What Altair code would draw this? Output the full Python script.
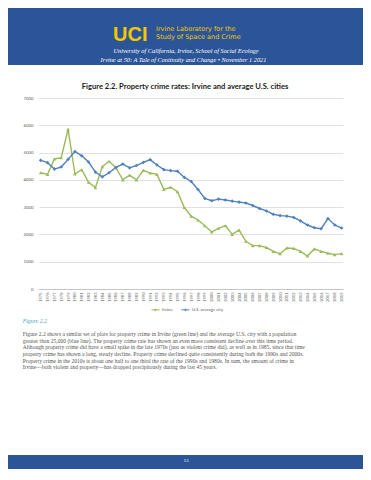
import altair as alt
import pandas as pd

years = list(range(1975, 2020))
irvine = [4260, 4200, 4765, 4815, 5860, 4220, 4370, 3910, 3715, 4480,
          4680, 4445, 4000, 4170, 4000, 4350, 4250, 4200, 3650, 3730,
          3565, 2985, 2670, 2530, 2320, 2090, 2225, 2320, 2000, 2160,
          1750, 1590, 1590, 1520, 1380, 1295, 1505, 1490, 1380, 1210,
          1470, 1380, 1310, 1260, 1295]
us_avg = [4715, 4630, 4395, 4470, 4750, 5040, 4880, 4655, 4285, 4110,
          4260, 4455, 4580, 4440, 4525, 4640, 4740, 4545, 4375, 4340,
          4315, 4090, 3940, 3645, 3320, 3235, 3295, 3260, 3220, 3185,
          3150, 3060, 2950, 2860, 2740, 2690, 2670, 2620, 2495, 2345,
          2245, 2210, 2580, 2345, 2235]
series_names = ["Irvine", "U.S. average city"]
series_shapes = ["triangle-up", "diamond"]
y_ticks = [0, 1000, 2000, 3000, 4000, 5000, 6000, 7000]

title_text = "Figure 2.2. Property crime rates: Irvine and average U.S. cities"
banner_lab1 = "Irvine Laboratory for the"
banner_lab2 = "Study of Space and Crime"
banner_sub1 = "University of California, Irvine, School of Social Ecology"
banner_sub2 = "Irvine at 50: A Tale of Continuity and Change  \u2022 November 1 2021"
caption = "Figure 2.2"
paragraph = [
    "Figure 2.2 shows a similar set of plots for property crime in Irvine (green line) and the average U.S. city with a population",
    "greater than 25,000 (blue line). The property crime rate has shown an even more consistent decline over this time period.",
    "Although property crime did have a small spike in the late 1970s (just as violent crime did), as well as in 1985, since that time",
    "property crime has shown a long, steady decline. Property crime declined quite consistently during both the 1990s and 2000s.",
    "Property crime in the 2010s is about one half to one third the rate of the 1990s and 1980s. In sum, the amount of crime in",
    "Irvine\u2014both violent and property\u2014has dropped precipitously during the last 45 years.",
]
page_no = "13"

df = pd.DataFrame({
    "year": years * 2,
    "rate": irvine + us_avg,
    "series": [series_names[0]] * len(years) + [series_names[1]] * len(years),
})

BLUE_BAND = "#2b5597"
GOLD = "#f4c800"

color_scale = alt.Scale(domain=series_names, range=["#9bbb59", "#4f81bd"])
x_enc = alt.X("year:Q",
              scale=alt.Scale(domain=[1974.75, 2019.2], nice=False, zero=False),
              axis=alt.Axis(values=years, format="d", labelAngle=270, labelFontSize=4,
                            labelColor="#595959", labelPadding=3, ticks=False, grid=False,
                            domainColor="#bfbfbf", domainWidth=0.8, title=None,
                            labelOverlap=False, labelBound=False, labelFont="Lato"))
y_enc = alt.Y("rate:Q",
              scale=alt.Scale(domain=[0, 7000], nice=False),
              axis=alt.Axis(values=y_ticks, format="d", grid=True, gridColor="#d9d9d9",
                            gridWidth=0.8, domain=False, ticks=False, labelFontSize=4.3,
                            labelColor="#595959", labelPadding=6, title=None, labelFont="Lato"))

legend = alt.Legend(title=None, orient="none", legendX=112, legendY=207, direction="horizontal",
                    labelFontSize=4.3, labelColor="#595959", labelFont="Lato",
                    symbolType="M-1,0L1,0M0,-0.2L0.2,0L0,0.2L-0.2,0Z", symbolSize=64,
                    symbolStrokeWidth=1, columnPadding=6, labelOffset=2)

lines = alt.Chart(df).mark_line(strokeWidth=1.4).encode(
    x=x_enc, y=y_enc, color=alt.Color("series:N", scale=color_scale, legend=legend))

point_layers = []
for name, shp in zip(series_names, series_shapes):
    point_layers.append(
        alt.Chart(df).transform_filter(alt.datum.series == name)
        .mark_point(filled=True, size=13, opacity=1, shape=shp)
        .encode(x=x_enc, y=y_enc, color=alt.Color("series:N", scale=color_scale, legend=None)))

one = alt.Data(values=[{"k": 0}])


def rect(x1, x2, y1, y2, color):
    return alt.Chart(one).mark_rect(color=color).encode(
        x=alt.value(x1), x2=alt.value(x2), y=alt.value(y1), y2=alt.value(y2))


def txt(s, x, y, **kw):
    return alt.Chart(one).mark_text(**kw).encode(x=alt.value(x), y=alt.value(y), text=alt.value(s))


layers = [
    rect(-31, 324, -90, -33, BLUE_BAND),
    rect(-31, 324, 357, 380, BLUE_BAND),
    lines,
    *point_layers,
    txt("UCI", 74, -57.5, font="Liberation Sans", fontWeight="bold", fontSize=20, color=GOLD,
        align="left", baseline="alphabetic"),
    txt(banner_lab1, 117, -69.2, font="DejaVu Sans", fontSize=6.5, color=GOLD, align="left",
        baseline="middle"),
    txt(banner_lab2, 117, -61.2, font="DejaVu Sans", fontSize=6.5, color=GOLD, align="left",
        baseline="middle"),
    txt(banner_sub1, 147, -47.3, font="Liberation Serif", fontStyle="italic", fontSize=6.3,
        color="white", align="center", baseline="middle"),
    txt(banner_sub2, 144.5, -38, font="Liberation Serif", fontStyle="italic", fontSize=6.3,
        color="white", align="center", baseline="middle"),
    txt(title_text, 146, -11, font="Lato", fontWeight="bold", fontSize=7.6, color="#1a1a1a",
        align="center", baseline="middle"),
    txt(caption, -16.3, 223, font="Liberation Serif", fontStyle="italic", fontSize=5.8,
        color="#4f9fc0", align="left", baseline="middle"),
    txt(paragraph, -16.3, 236, font="Liberation Serif", fontSize=5.6, color="#555555",
        align="left", baseline="middle", lineHeight=6.65),
    txt(page_no, 147, 363, font="Lato", fontSize=4.5, color="#dfe6f2", align="center",
        baseline="middle"),
]

chart = alt.layer(*layers).properties(
    width=304, height=191,
    padding={"left": 31, "top": 90, "right": 20, "bottom": 180},
    autosize=alt.AutoSizeParams(type="none"),
    background="white",
).configure_view(stroke=None)

chart.save("out.html", embed_options={"renderer": "svg", "actions": False})
